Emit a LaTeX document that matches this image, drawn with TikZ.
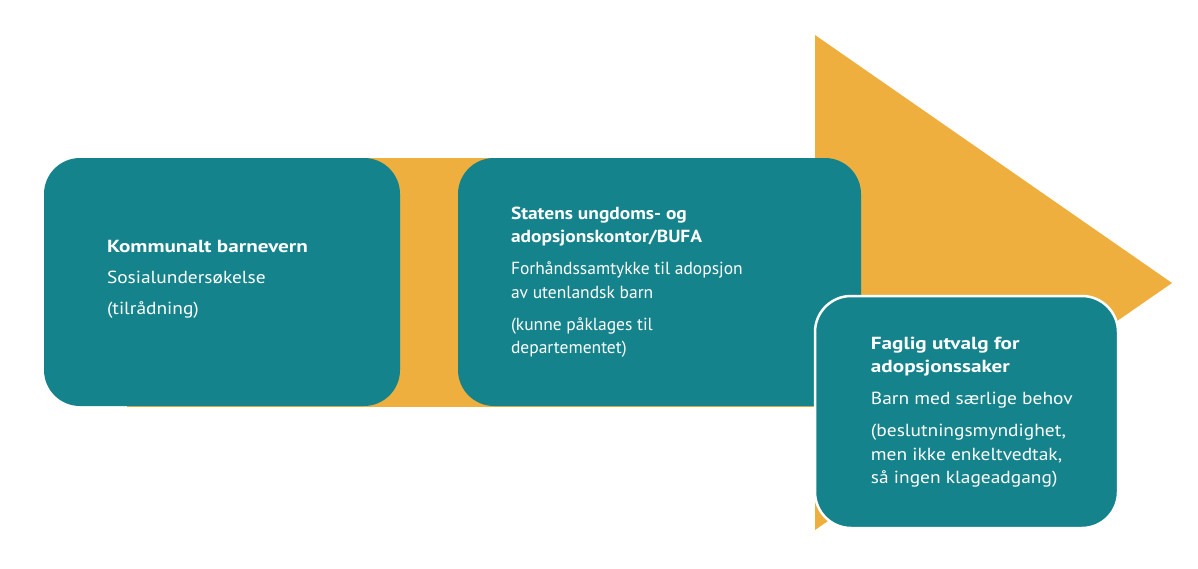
\documentclass[tikz,border=0pt]{standalone}
\usepackage{fontspec}
\setmainfont{PT Sans}
\newfontfamily\fwide{PT Sans}[FakeStretch=1.11]
\newfontfamily\fwideB{PT Sans}[FakeStretch=1.21]
\newfontfamily\fnorm{PT Sans}
\newfontfamily\fnormB{PT Sans}[FakeStretch=1.11]
\newcommand{\hdA}[1]{{\fwideB\bfseries #1}}
\newcommand{\hdB}[1]{{\fnormB\bfseries #1}}
\definecolor{teal1}{RGB}{20,131,140}
\definecolor{gold1}{RGB}{239,175,63}
\begin{document}
\begin{tikzpicture}[x=1pt,y=-1pt,
  box/.style={rectangle, rounded corners=36pt, fill=teal1, draw=none, inner sep=0pt},
  txt/.style={text=white, align=left, inner sep=0pt, anchor=west},
  wide/.style={font=\fwide\fontsize{17.5}{23.5}\selectfont},
  norm/.style={font=\fnorm\fontsize{17.5}{23.5}\selectfont}]
\useasboundingbox (0,0) rectangle (1198,568);
% arrow
\fill[gold1] (815,35) -- (1172,283) -- (815,530) -- cycle;
\fill[gold1] (127,158) rectangle (816,407);
% boxes
\node[box, minimum width=356pt, minimum height=248pt] (b1) at (222,282) {};
\node[box, minimum width=403pt, minimum height=248pt] (b2) at (659.5,282) {};
\node[box, minimum width=303pt, minimum height=232pt, draw=white, line width=2.5pt] (b3) at (966.5,412) {};
% texts
\node[txt, wide] (t1) at ([xshift=63pt,yshift=3pt]b1.west) {\hdA{Kommunalt barnevern}\\[7.5pt]Sosialundersøkelse\\[7.5pt](tilrådning)};
\node[txt, norm] (t2) at ([xshift=53pt]b2.west) {\hdB{Statens ungdoms- og}\\\hdB{adopsjonskontor/BUFA}\\[8.5pt]Forhåndssamtykke til adopsjon\\av utenlandsk barn\\[8.5pt](kunne påklages til\\departementet)};
\node[txt, wide] (t3) at ([xshift=57pt]b3.west) {\hdA{Faglig utvalg for}\\\hdA{adopsjonssaker}\\[8.5pt]Barn med særlige behov\\[8.5pt](beslutningsmyndighet,\\men ikke enkeltvedtak,\\så ingen klageadgang)};
\end{tikzpicture}
\end{document}
